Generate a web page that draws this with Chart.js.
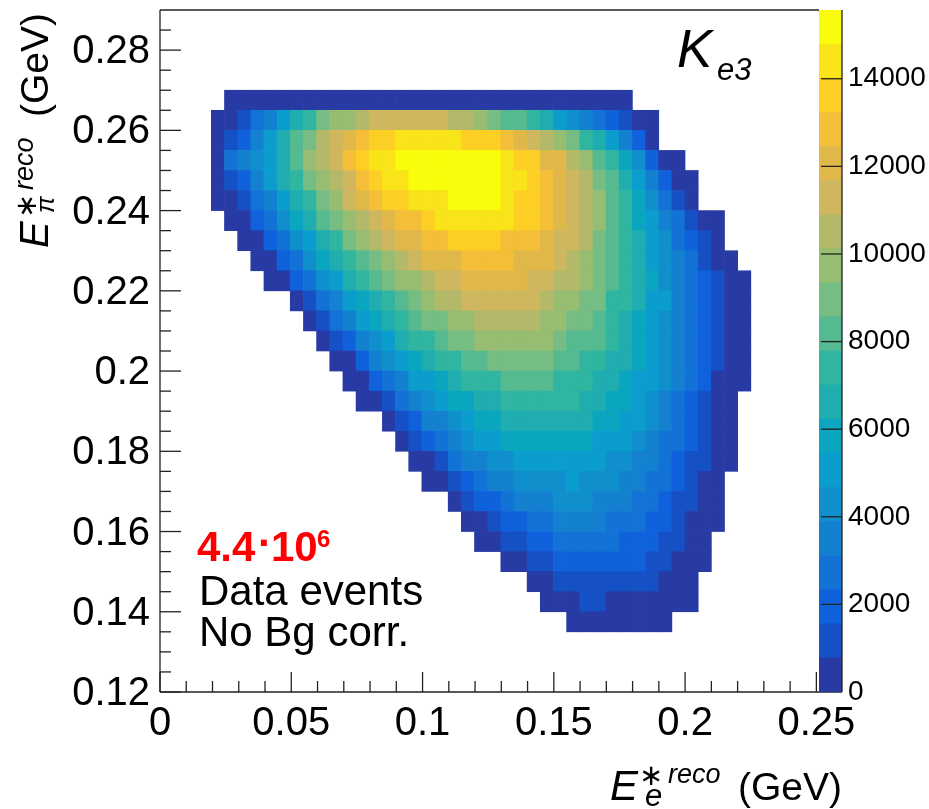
<!DOCTYPE html>
<html>
<head>
<meta charset="utf-8">
<title>Ke3 Dalitz</title>
<script src="https://cdn.jsdelivr.net/npm/chart.js@4"></script>
<style>
    body { margin: 0; background: #fff; }
    canvas { position: absolute; left: 0; top: 0; }
</style>
</head>
<body>
<canvas id="mapChart" width="929" height="809"></canvas>
<canvas id="paletteChart" width="929" height="809"></canvas>
<script>
// Binning of the histogram (GeV)
const xBinStart = -0.0005;
const xBinWidth = 0.005012;
const yBinHeight = 0.005;

// Lower edge of each row, top row first
const rowLows = [0.265, 0.26, 0.255, 0.25, 0.245, 0.24, 0.235, 0.23, 0.225, 0.22, 0.215, 0.21, 0.205, 0.2,
    0.195, 0.19, 0.185, 0.18, 0.175, 0.17, 0.165, 0.16, 0.155, 0.15, 0.145, 0.14, 0.135];

// Index of the first filled x bin in each row
const rowFirstBins = [5, 4, 4, 4, 4, 4, 5, 6, 7, 8, 10, 11, 12, 13, 14, 15, 17, 18, 19, 20, 22, 23, 24, 26, 28, 29, 31];

// Counts per bin
const rowCounts = [
    [400,400,400,400,400,400,400,400,400,400,400,400,400,400,400,400,400,400,400,400,400,400,400,400,400,400,400,400,400,400,400],
    [400,400,1200,2700,3500,5100,6600,7400,9000,9700,9700,10500,11300,11300,11300,11300,11300,11300,10500,10500,9700,9000,8200,8200,7400,6600,5100,4300,3500,2700,1900,1200,400,400],
    [400,1200,1900,3500,5100,6600,8200,9000,10500,11300,12100,12800,13600,13600,14400,14400,14400,14400,14400,13600,13600,13600,12800,12100,11300,10500,9700,9000,7400,6600,5100,3500,1900,400],
    [400,2700,3500,4300,5100,6600,8200,9700,10500,11300,12800,13600,14400,14400,15200,15200,15200,15200,15200,15200,15200,15200,14400,13600,13600,12100,12100,10500,9700,8200,7400,5800,4300,1900,400,400],
    [400,1200,1900,3500,5100,6600,7400,9000,9700,10500,11300,12800,13600,14400,14400,15200,15200,15200,15200,15200,15200,15200,14400,14400,13600,12800,12100,11300,10500,9000,8200,6600,5100,3500,1900,400,400],
    [400,400,1200,2700,3500,5100,6600,7400,9000,9700,11300,12100,12800,13600,13600,14400,14400,14400,15200,15200,15200,15200,14400,13600,13600,12800,12100,11300,10500,9700,8200,7400,5800,4300,2700,1200,400],
    [400,400,1900,2700,4300,5800,6600,8200,9000,9700,10500,11300,12100,12800,12800,13600,14400,14400,14400,14400,14400,14400,13600,13600,12800,12100,11300,10500,9700,8200,7400,5800,5100,3500,2700,1200,400,400],
    [400,400,1900,2700,4300,5100,6600,7400,9000,9700,10500,11300,12100,12100,12800,12800,13600,13600,13600,13600,12800,12800,12800,12100,11300,11300,10500,9000,8200,7400,6600,5100,4300,2700,1900,1200,400],
    [400,400,1900,2700,4300,5800,6600,7400,8200,9000,9700,10500,11300,12100,12100,12100,12800,12800,12800,12800,12100,12100,12100,11300,10500,9700,9000,8200,7400,6600,5100,4300,3500,2700,1200,400,400],
    [400,400,1900,2700,4300,5100,6600,7400,8200,9000,9700,9700,10500,11300,11300,12100,12100,12100,12100,12100,11300,11300,10500,10500,9700,9000,8200,7400,6600,5800,4300,3500,2700,1900,1200,400,400],
    [400,1200,2700,3500,5100,5800,6600,7400,8200,9000,9700,10500,10500,11300,11300,11300,11300,11300,11300,10500,9700,9700,9000,9000,7400,7400,6600,5100,5100,3500,2700,1900,1200,400,400],
    [400,1200,2700,3500,5100,5800,6600,7400,8200,9000,9000,9700,9700,10500,10500,10500,10500,10500,9700,9700,9000,9000,8200,7400,6600,5800,5100,4300,3500,2700,1900,1200,400,400],
    [400,1200,1900,3500,4300,5100,6600,7400,7400,8200,9000,9000,9700,9700,9700,9700,9700,9700,9000,8200,8200,8200,7400,6600,5800,5100,4300,3500,2700,1900,1200,400,400],
    [400,400,1900,3500,4300,5100,5800,6600,7400,7400,8200,8200,9000,9000,9000,9000,9000,8200,8200,7400,7400,6600,6600,5800,5100,4300,3500,2700,1900,1200,400,400],
    [400,400,1900,2700,3500,5100,5100,5800,6600,7400,7400,7400,8200,8200,8200,8200,7400,7400,7400,6600,6600,5800,5100,5100,4300,3500,2700,1900,400,400,400],
    [400,400,1200,2700,3500,4300,5100,5800,5800,6600,6600,7400,7400,7400,7400,7400,7400,6600,6600,5800,5800,5100,4300,3500,2700,1900,1200,400,400],
    [400,1200,1900,3500,3500,4300,5100,5800,5800,6600,6600,6600,6600,6600,6600,6600,5800,5800,5100,5100,4300,3500,2700,1900,1200,400,400],
    [400,1200,1900,2700,3500,4300,5100,5100,5800,5800,5800,5800,5800,5800,5800,5100,5100,5100,4300,3500,2700,2700,1900,1200,400,400],
    [400,400,1200,2700,3500,3500,4300,4300,5100,5100,5100,5100,5100,5100,5100,4300,4300,3500,3500,2700,1900,1200,1200,400,400],
    [400,400,1200,1900,2700,3500,3500,4300,4300,4300,4300,5100,4300,4300,4300,3500,3500,2700,2700,1900,1200,400,400],
    [400,1200,1900,1900,2700,3500,3500,3500,4300,4300,4300,3500,3500,3500,2700,2700,1900,1200,1200,400,400],
    [400,400,1200,1900,1900,2700,2700,3500,3500,3500,3500,2700,2700,2700,1900,1900,1200,400,400,400],
    [400,400,1200,1200,1900,1900,2700,2700,2700,2700,2700,1900,1900,1900,1200,1200,400,400],
    [400,400,1200,1200,1900,1900,1900,1900,1900,1900,1900,1200,1200,400,400,400],
    [400,400,1200,1200,1200,1200,1200,1200,1200,1200,400,400,400],
    [400,400,400,1200,1200,400,400,400,400,400,400,400],
    [400,400,400,400,400,400,400,400]
];

// Colour bands of the palette, lowest first
const zMax = 15570;
const paletteColors = ['#283aa3', '#1550c5', '#0f62db', '#1272d6', '#1480d0', '#108fcd', '#0a9dce', '#0aa6c0', '#1fadaf', '#2fb5a0',
    '#55ba90', '#75bd82', '#96bd72', '#b3b968', '#cfb75f', '#e0b84a', '#f4be38', '#fdcf24', '#f9e319', '#f9fc0a'];

// Tick positions
const xTicks = [0, 0.05, 0.1, 0.15, 0.2, 0.25];
const yTicks = [0.12, 0.14, 0.16, 0.18, 0.2, 0.22, 0.24, 0.26, 0.28];
const zTicks = [0, 2000, 4000, 6000, 8000, 10000, 12000, 14000];
const xMinorTicks = [0.01, 0.02, 0.03, 0.04, 0.06, 0.07, 0.08, 0.09, 0.11, 0.12, 0.13, 0.14, 0.16, 0.17, 0.18, 0.19, 0.21, 0.22, 0.23, 0.24];
const yMinorTicks = [0.125, 0.13, 0.135, 0.145, 0.15, 0.155, 0.165, 0.17, 0.175, 0.185, 0.19, 0.195, 0.205, 0.21, 0.215,
    0.225, 0.23, 0.235, 0.245, 0.25, 0.255, 0.265, 0.27, 0.275, 0.285];

const fontFamily = '"Liberation Sans"';
const starFamily = '"DejaVu Sans"';

// Free text: horizontal pieces, in page pixels
const textPieces = [
    { text: 'K', x: 677, y: 67, font: 'italic 53px', color: '#000' },
    { text: 'e3', x: 717, y: 80, font: 'italic 31px', color: '#000' },
    { text: '4.4', x: 197, y: 561, font: 'bold 42px', color: '#ff0000' },
    { text: '·', x: 258, y: 557, font: 'bold 42px', color: '#ff0000' },
    { text: '10', x: 271, y: 561, font: 'bold 42px', color: '#ff0000' },
    { text: '6', x: 317, y: 547, font: 'bold 24px', color: '#ff0000' },
    { text: 'Data events', x: 199, y: 605, font: '42px', color: '#000' },
    { text: 'No Bg corr.', x: 199, y: 646, font: '42px', color: '#000' },
    { text: 'E', x: 610, y: 800, font: 'italic 42px', color: '#000' },
    { text: '∗', x: 639, y: 785, font: '29px', family: starFamily, color: '#000' },
    { text: 'e', x: 645, y: 806, font: 'italic 31px', color: '#000' },
    { text: 'reco', x: 668, y: 783, font: 'italic 27px', color: '#000' },
    { text: '(GeV)', x: 738, y: 800, font: '39px', color: '#000' }
];

// Y axis title pieces, along the rotated baseline from (48, 248)
const yTitlePieces = [
    { text: 'E', x: 0, y: 0, font: 'italic 40px' },
    { text: '∗', x: 30, y: -12, font: '29px', family: starFamily },
    { text: 'π', x: 35, y: 6, font: 'italic 25px' },
    { text: 'reco', x: 58, y: -15, font: 'italic 27px' },
    { text: '(GeV)', x: 131, y: 0, font: '39px' }
];

function bandColor(value) {
    const band = Math.min(paletteColors.length - 1, Math.floor(value / zMax * paletteColors.length));
    return paletteColors[band];
}

function tickLabel(value) {
    return String(+value.toFixed(3));
}

function useTicks(values) {
    return scale => { scale.ticks = values.map(v => ({ value: v })); };
}

// Fix the axis box and stop tick labels from pushing the plot area around
function fixBox(size) {
    return scale => {
        if (scale.isHorizontal()) {
            scale.height = size;
        } else {
            scale.width = size;
        }
        scale.paddingTop = 0;
        scale.paddingBottom = 0;
        scale.paddingLeft = 0;
        scale.paddingRight = 0;
    };
}

function buildCells() {
    const cells = [];
    rowLows.forEach((low, r) => {
        rowCounts[r].forEach((count, i) => {
            cells.push({
                x: xBinStart + (rowFirstBins[r] + i + 0.5) * xBinWidth,
                y: [low, low + yBinHeight],
                count: count
            });
        });
    });
    return cells;
}

// ROOT style ticks point inwards, so they are drawn from the scales here
function drawTick(ctx, x0, y0, x1, y1) {
    ctx.beginPath();
    ctx.moveTo(x0, y0);
    ctx.lineTo(x1, y1);
    ctx.stroke();
}

function setPieceFont(ctx, piece) {
    ctx.font = piece.font + ' ' + (piece.family || fontFamily);
}

const frameAndTicks = {
    id: 'frameAndTicks',
    afterDraw(chart) {
        const { ctx, chartArea: area, scales } = chart;
        ctx.save();
        ctx.strokeStyle = '#222';
        ctx.lineWidth = 1.3;
        drawTick(ctx, area.left, area.top, area.right, area.top);
        drawTick(ctx, area.left, area.top, area.left, area.bottom);
        drawTick(ctx, area.left, area.bottom, area.right + 23, area.bottom);
        xTicks.forEach(v => {
            const px = scales.x.getPixelForValue(v);
            drawTick(ctx, px, area.bottom, px, area.bottom - 20);
        });
        xMinorTicks.forEach(v => {
            const px = scales.x.getPixelForValue(v);
            drawTick(ctx, px, area.bottom, px, area.bottom - 11);
        });
        yTicks.forEach(v => {
            const py = scales.y.getPixelForValue(v);
            drawTick(ctx, area.left, py, area.left + 21, py);
        });
        yMinorTicks.forEach(v => {
            const py = scales.y.getPixelForValue(v);
            drawTick(ctx, area.left, py, area.left + 11, py);
        });

        // Texts
        ctx.textBaseline = 'alphabetic';
        textPieces.forEach(p => {
            setPieceFont(ctx, p);
            ctx.fillStyle = p.color;
            ctx.fillText(p.text, p.x, p.y);
        });
        ctx.translate(48, 248);
        ctx.rotate(-Math.PI / 2);
        ctx.fillStyle = '#000';
        yTitlePieces.forEach(p => {
            setPieceFont(ctx, p);
            ctx.fillText(p.text, p.x, p.y);
        });
        ctx.restore();
    }
};

const paletteFrame = {
    id: 'paletteFrame',
    afterDraw(chart) {
        const { ctx, chartArea: area, scales } = chart;
        ctx.save();
        ctx.strokeStyle = '#222';
        ctx.lineWidth = 1.3;
        drawTick(ctx, area.right, area.top, area.right, area.bottom);
        zTicks.forEach(v => {
            if (v === 0) return;
            const py = scales.y.getPixelForValue(v);
            drawTick(ctx, area.right, py, area.right - 21, py);
        });
        ctx.restore();
    }
};

new Chart(document.getElementById('mapChart'), {
    type: 'bar',
    data: {
        datasets: [{
            data: buildCells(),
            backgroundColor: c => bandColor(c.raw.count),
            borderWidth: 0,
            barPercentage: 1,
            categoryPercentage: 1
        }]
    },
    plugins: [frameAndTicks],
    options: {
        responsive: false,
        animation: false,
        devicePixelRatio: 1,
        layout: { padding: { top: 10, right: 110, left: 0, bottom: 0 } },
        plugins: { legend: { display: false }, tooltip: { enabled: false } },
        scales: {
            x: {
                type: 'linear',
                offset: false,
                min: 0,
                max: 0.251,
                grid: { display: false, drawTicks: false, offset: false },
                border: { display: false },
                afterBuildTicks: useTicks(xTicks),
                afterFit: fixBox(117),
                ticks: {
                    autoSkip: false,
                    maxRotation: 0,
                    padding: 8,
                    color: '#000',
                    font: { family: fontFamily, size: 40 },
                    callback: tickLabel
                }
            },
            y: {
                min: 0.12,
                max: 0.29,
                grid: { display: false, drawTicks: false },
                border: { display: false },
                afterBuildTicks: useTicks(yTicks),
                afterFit: fixBox(160),
                ticks: {
                    autoSkip: false,
                    padding: 10,
                    labelOffset: 2,
                    color: '#000',
                    font: { family: fontFamily, size: 40 },
                    callback: tickLabel
                }
            }
        }
    }
});

// Palette on the right, one floating bar per colour band
new Chart(document.getElementById('paletteChart'), {
    type: 'bar',
    data: {
        labels: ['z'],
        datasets: paletteColors.map((color, i) => ({
            data: [[i * zMax / paletteColors.length, (i + 1) * zMax / paletteColors.length]],
            backgroundColor: color,
            borderWidth: 0,
            barPercentage: 1,
            categoryPercentage: 1
        }))
    },
    plugins: [paletteFrame],
    options: {
        responsive: false,
        animation: false,
        devicePixelRatio: 1,
        layout: { padding: { top: 10, left: 819, right: 0, bottom: 117 } },
        plugins: { legend: { display: false }, tooltip: { enabled: false } },
        scales: {
            x: { stacked: true, display: false },
            y: {
                position: 'right',
                min: 0,
                max: zMax,
                grid: { display: false, drawTicks: false },
                border: { display: false },
                afterBuildTicks: useTicks(zTicks),
                afterFit: fixBox(87),
                ticks: {
                    autoSkip: false,
                    padding: 6,
                    color: '#000',
                    font: { family: fontFamily, size: 28 },
                    callback: tickLabel
                }
            }
        }
    }
});
</script>
</body>
</html>
